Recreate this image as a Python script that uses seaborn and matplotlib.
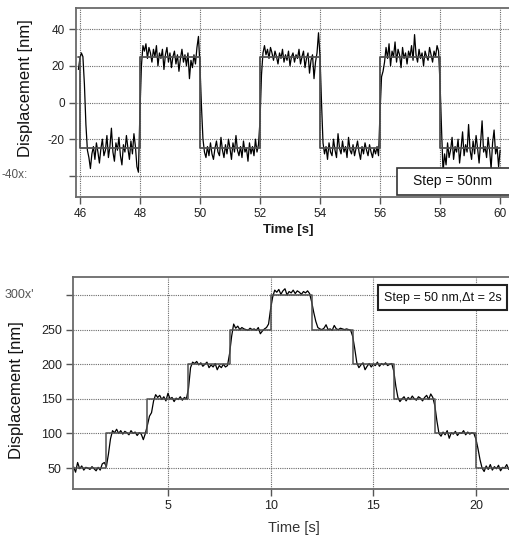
import numpy as np
import pandas as pd
import matplotlib.pyplot as plt
import seaborn as sns
from matplotlib.patches import Rectangle

sns.set_theme(style="white")
plt.rcParams['font.family'] = ['Liberation Sans', 'DejaVu Sans']

# top panel: square wave, sampled every 0.05 s from 45.95 s
top_t0 = 45.95
top_dt = 0.05
top_disp = [
    18, 24, 27, 25, 10, -12, -26,
    -30, -36, -28, -24, -31, -22, -27, -33, -25, -20, -29, -26, -18, -30, -24, -14, -27,
    -32, -22, -26, -19, -29, -34, -23, -27, -18, -25, -31, -21, -28, -17, -24, -35, -38,
    -5, 20, 31,
    28, 32, 24, 30, 27, 22, 29, 25, 31, 20, 27, 24, 29, 18, 26, 30, 22, 27, 19, 25, 28,
    21, 26, 17, 24, 29, 22, 26, 20, 27, 13, 23, 19, 26, 21, 30, 36,
    20, -2, -20,
    -27, -30, -24, -29, -22, -28, -31, -25, -21, -27, -29, -19, -26, -30, -23, -28, -20,
    -25, -31, -22, -27, -18, -26, -29, -24, -30, -21, -27, -25, -32, -22, -28, -24, -29, -20, -27, -23,
    -10, 15, 27,
    31, 26, 29, 24, 30, 27, 23, 28, 25, 21, 27, 24, 29, 22, 26, 23, 28, 20, 25, 27, 22,
    26, 24, 29, 21, 25, 28, 19, 24, 27, 16, 23, 26, 13, 22, 27, 38,
    25, 0, -22,
    -28, -24, -31, -22, -27, -29, -20, -26, -30, -17, -25, -28, -21, -27, -24, -30, -19,
    -26, -28, -23, -29, -25, -21, -27, -31, -24, -28, -22, -26, -29, -23, -27, -30, -25, -28, -24, -29,
    -5, 14, 17,
    22, 30, 24, 32, 20, 28, 25, 33, 22, 29, 26, 19, 30, 24, 27, 21, 28, 25, 31, 23, 37,
    26, 22, 29, 24, 27, 20, 28, 25, 23, 30, 26, 22, 28, 25, 31, 28,
    10, -15, -38,
    -28, -34, -22, -30, -26, -19, -31, -24, -27, -20, -33, -25, -16, -29, -23, -27, -12,
    -26, -31, -21, -28, -18, -25, -33, -22, -10, -27, -24, -30, -19, -26, -36, -22, -15, -28, -24, -35, -26,
]
top_step_t = [45.95, 46, 48, 50, 52, 54, 56, 58, 60]
top_step_level = [25, -25, 25, -25, 25, -25, 25, -25, -25]
top_xticks = [46, 48, 50, 52, 54, 56, 58, 60]
top_yticks = [40, 20, 0, -20, -40]
top_yticklabels = ['40', '20', '0', '-20', '']

# bottom panel: staircase, sampled every 0.1 s from 0.4 s
bot_t0 = 0.4
bot_dt = 0.1
bot_disp = [
    52, 44, 58, 49, 53, 47, 51, 50, 48, 52, 49, 46, 51, 47, 56, 58,
    52, 70, 92, 104,
    101, 106, 100, 104, 99, 103, 101, 98, 104, 100, 102, 97, 101, 99, 91, 100,
    112, 125, 130, 147, 156,
    152, 155, 149, 153, 147, 158, 150, 152, 146, 151, 149, 153, 148, 152, 150,
    165, 195, 203,
    201, 204, 199, 202, 197, 200, 203, 195, 199, 196, 201, 192, 198, 195, 200, 196, 198,
    215, 240, 258,
    252, 255, 250, 253, 251, 250, 249, 252, 250, 251, 249, 253, 244, 248, 251, 253, 258,
    280, 297, 307,
    304, 308, 301, 306, 309, 300, 305, 303, 307, 302, 306, 304, 301, 305, 303, 306, 302,
    290, 275, 262, 253,
    251, 250, 252, 257, 250, 251, 249, 256, 251, 250, 252, 251, 250, 251, 250, 249,
    240, 222, 202, 195,
    199, 202, 192, 197, 201, 196, 200, 198, 203, 197, 201, 199, 202, 198, 200, 201,
    190, 168, 152, 146,
    150, 153, 147, 152, 149, 154, 150, 148, 153, 151, 147, 152, 155, 149, 157, 152,
    140, 118, 100, 96,
    102, 98, 104, 93, 101, 99, 103, 97, 101, 100, 104, 98, 102, 99, 101, 100,
    92, 78, 62, 50,
    45, 53, 48, 55, 47, 52, 49, 54, 46, 51, 50, 55, 48,
]
bot_step_t = [0.4, 2, 4, 6, 8, 10, 12, 14, 16, 18, 20, 21.7]
bot_step_level = [50, 100, 150, 200, 250, 300, 250, 200, 150, 100, 50, 50]
bot_xticks = [5, 10, 15, 20]
bot_yticks = [50, 100, 150, 200, 250, 300]
bot_yticklabels = ['50', '100', '150', '200', '250', '']

W, H = 510, 537
fig = plt.figure(figsize=(W / 100, H / 100), dpi=100)


def px(x0, y0, x1, y1):
    # pixel box -> figure fraction [left, bottom, width, height]
    return [x0 / W, 1 - y1 / H, (x1 - x0) / W, (y1 - y0) / H]


def style_axes(ax, size):
    ax.grid(True, linestyle=(0, (1, 1)), color='#6a6a6a', linewidth=0.8)
    for s in ['top', 'left', 'bottom']:
        ax.spines[s].set_color('#6a6a6a')
        ax.spines[s].set_linewidth(1.3)
    ax.spines['right'].set_visible(False)
    ax.tick_params(bottom=True, left=True, direction='out', length=5, width=1,
                   color='#555555', labelsize=size, labelcolor='#222222', pad=3)
    ax.set_xlabel('')
    ax.set_ylabel('')


# top chart
ax1 = fig.add_axes(px(76, 8, 510, 197))
df_top = pd.DataFrame({'t': top_t0 + top_dt * np.arange(len(top_disp)), 'disp': top_disp})
sns.lineplot(data=df_top, x='t', y='disp', ax=ax1, color='black', linewidth=0.9, estimator=None)
sns.lineplot(x=top_step_t, y=top_step_level, ax=ax1, color='#505050', linewidth=1.3,
             drawstyle='steps-post', estimator=None)
ax1.set_xlim(45.87, 60.33)
ax1.set_ylim(-51.5, 51.5)
ax1.set_xticks(top_xticks)
ax1.set_yticks(top_yticks)
ax1.set_yticklabels(top_yticklabels)
style_axes(ax1, 8.5)

# bottom chart
ax2 = fig.add_axes(px(73, 277, 510, 489))
df_bot = pd.DataFrame({'t': bot_t0 + bot_dt * np.arange(len(bot_disp)), 'disp': bot_disp})
sns.lineplot(data=df_bot, x='t', y='disp', ax=ax2, color='black', linewidth=0.9, estimator=None)
sns.lineplot(x=bot_step_t, y=bot_step_level, ax=ax2, color='#505050', linewidth=1.1,
             drawstyle='steps-post', estimator=None)
ax2.set_xlim(0.375, 21.66)
ax2.set_ylim(19.7, 326)
ax2.set_xticks(bot_xticks)
ax2.set_yticks(bot_yticks)
ax2.set_yticklabels(bot_yticklabels)
style_axes(ax2, 9)

# odd leftover tick labels
fig.text(2 / W, 1 - 175 / H, '-40x:', ha='left', va='center', fontsize=8.5, color='#555555')
fig.text(5 / W, 1 - 295 / H, "300x'", ha='left', va='center', fontsize=9, color='#555555')

# axis titles
fig.text(26 / W, 1 - 88 / H, 'Displacement [nm]', rotation=90, ha='center', va='center',
         fontsize=12, color='#111111')
fig.text(288 / W, 1 - 230 / H, 'Time [s]', ha='center', va='center', fontsize=9.5,
         fontweight='bold', color='#1a1a1a')
fig.text(17 / W, 1 - 390 / H, 'Displacement [nm]', rotation=90, ha='center', va='center',
         fontsize=12, color='#111111')
fig.text(294 / W, 1 - 528 / H, 'Time [s]', ha='center', va='center', fontsize=10.5,
         color='#333333')

# annotation boxes
fig.add_artist(Rectangle((397 / W, 1 - 195 / H), 120 / W, 27 / H, transform=fig.transFigure,
                         facecolor='white', edgecolor='#333333', linewidth=1.2))
fig.text(453 / W, 1 - 181.5 / H, 'Step = 50nm', ha='center', va='center', fontsize=10,
         color='#111111')
fig.add_artist(Rectangle((378 / W, 1 - 310 / H), 129 / W, 25 / H, transform=fig.transFigure,
                         facecolor='white', edgecolor='#222222', linewidth=1.5))
fig.text(442.5 / W, 1 - 297.5 / H, 'Step = 50 nm,\u0394t = 2s', ha='center', va='center',
         fontsize=9, color='#111111')

fig.savefig('out.png', dpi=100)
